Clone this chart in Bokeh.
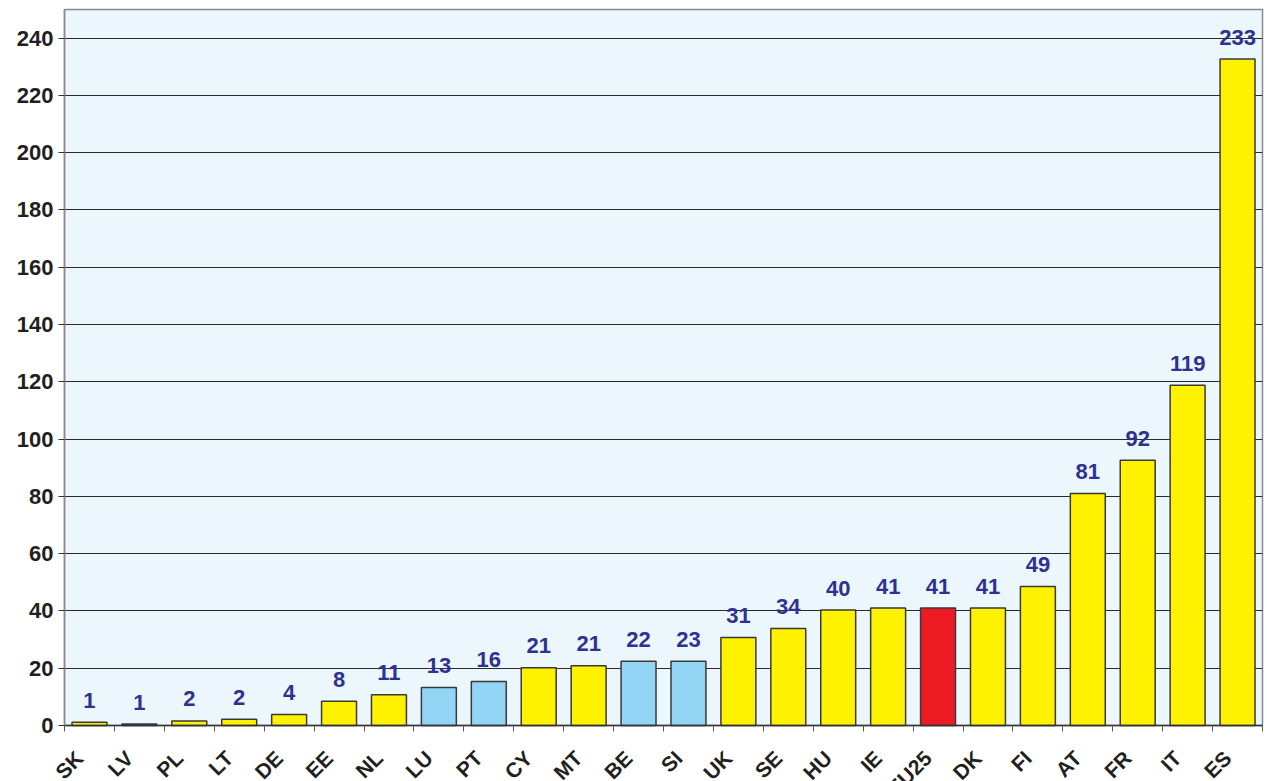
import math
from bokeh.plotting import figure
from bokeh.models import ColumnDataSource, FixedTicker, Range1d, LinearAxis, Grid
from bokeh.core.properties import value
from bokeh.embed import file_html
from bokeh.resources import INLINE

categories = ["SK", "LV", "PL", "LT", "DE", "EE", "NL", "LU", "PT", "CY", "MT", "BE",
              "SI", "UK", "SE", "HU", "IE", "EU25", "DK", "FI", "AT", "FR", "IT", "ES"]
values = [1.1, 0.5, 1.6, 2.2, 3.8, 8.5, 10.7, 13.3, 15.4, 20.2, 20.9, 22.4,
          22.4, 30.7, 33.9, 40.3, 41.0, 41.0, 41.0, 48.5, 81.0, 92.6, 118.8, 232.7]
value_labels = ["1", "1", "2", "2", "4", "8", "11", "13", "16", "21", "21", "22",
                "23", "31", "34", "40", "41", "41", "41", "49", "81", "92", "119", "233"]
groups = ["y", "y", "y", "y", "y", "y", "y", "b", "b", "y", "y", "b",
          "b", "y", "y", "y", "y", "r", "y", "y", "y", "y", "y", "y"]
y_ticks = list(range(0, 241, 20))
y_max = 250

palette = {"y": "#FFF200", "b": "#92D5F5", "r": "#ED1C24"}
n = len(categories)
xc = [i + 0.5 for i in range(n)]

# page geometry (pixels) of the plotting area inside the figure
W, H = 1267, 781
BL, BR, BT, BB = 64, 5, 9, 56
ppx = (W - BL - BR) / n
ppy = (H - BT - BB) / y_max

src = ColumnDataSource(dict(x=xc, top=values, lab=value_labels, cat=categories,
                            zero=[0] * n,
                            color=[palette[g] for g in groups]))

p = figure(width=W, height=H, output_backend="svg", toolbar_location=None,
           x_range=Range1d(-BL / ppx, n + BR / ppx),
           y_range=Range1d(-BB / ppy, y_max + BT / ppy),
           x_axis_location=None, y_axis_location=None,
           min_border_left=0, min_border_right=0, min_border_top=0, min_border_bottom=0)
p.background_fill_color = "white"
p.border_fill_color = "white"
p.outline_line_color = None
# drop the default grids
p.center = [r for r in p.center if not isinstance(r, Grid)]

# plot-area background
p.quad(left=[0], right=[n], bottom=[0], top=[y_max], fill_color="#EBF6FD",
       line_color="#8A8A8A", line_width=1.5, level="image")

grid = Grid(dimension=1, ticker=FixedTicker(ticks=y_ticks), bounds=(0, y_max),
            cross_bounds=(0, n), grid_line_color="#2A2A2A", grid_line_width=1)
p.add_layout(grid)

p.vbar(x="x", top="top", width=0.70, bottom=0, source=src, fill_color="color",
       line_color="#3A3A3A", line_width=1.5)
p.text(x="x", y="top", text="lab", source=src, text_align="center",
       text_baseline="alphabetic", y_offset=-22, text_font=value("Liberation Sans"),
       text_font_style="bold", text_font_size="22px", text_color="#2E3192")

ya = LinearAxis(fixed_location=0, bounds=(0, y_max), ticker=FixedTicker(ticks=y_ticks))
ya.axis_line_color = "#8A8A8A"
ya.axis_line_width = 1.5
ya.major_tick_line_color = "#333333"
ya.major_tick_out = 6
ya.major_tick_in = 0
ya.minor_tick_line_color = None
ya.major_label_text_font = "Liberation Sans"
ya.major_label_text_font_style = "bold"
ya.major_label_text_font_size = "22px"
ya.major_label_text_color = "#231F20"
ya.major_label_standoff = 5
p.add_layout(ya, "left")

xa = LinearAxis(fixed_location=0, bounds=(0, n),
                ticker=FixedTicker(ticks=xc, minor_ticks=list(range(0, n + 1))))
xa.axis_line_color = "#333333"
xa.axis_line_width = 1.5
xa.major_tick_line_color = None
xa.minor_tick_line_color = "#555555"
xa.minor_tick_out = 6
xa.minor_tick_in = 0
xa.major_label_text_font_size = "0px"
xa.major_label_text_color = None
xa.major_label_standoff = 0
p.add_layout(xa, "below")

# rotated category labels under the axis
p.text(x="x", y="zero", text="cat", source=src, angle=math.pi / 4,
       text_align="right", text_baseline="middle", x_offset=-10, y_offset=29,
       text_font=value("Liberation Sans"), text_font_style="bold",
       text_font_size="21px", text_color="#231F20")

open("out.html", "w").write(file_html(p, INLINE))
